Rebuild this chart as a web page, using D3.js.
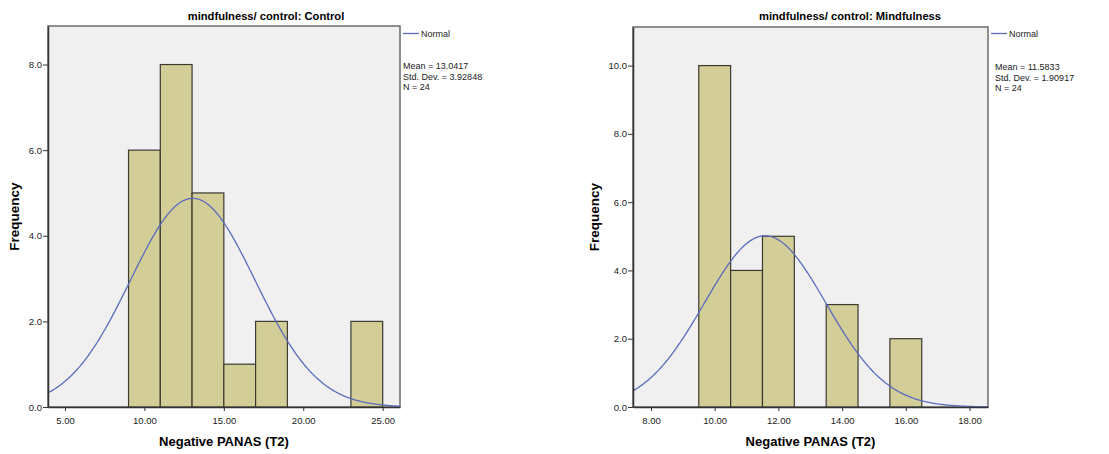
<!DOCTYPE html>
<html>
<head>
<meta charset="utf-8">
<script src="https://cdn.jsdelivr.net/npm/d3@7"></script>
<style>
  body { margin: 0; background: #fff; }
  svg text { font-family: "Liberation Sans", Arial, sans-serif; }
</style>
</head>
<body>
<svg width="1109" height="454"></svg>
<script>
// control group: bins of width 2
var controlBins = [9, 11, 13, 15, 17, 23];
var controlCounts = [6, 8, 5, 1, 2, 2];
var controlTicks = [5, 10, 15, 20, 25];
var controlStats = [13.0417, 3.92848, 24];

// mindfulness group: bins of width 1
var mindBins = [9.5, 10.5, 11.5, 13.5, 15.5];
var mindCounts = [10, 4, 5, 3, 2];
var mindTicks = [8, 10, 12, 14, 16, 18];
var mindStats = [11.5833, 1.90917, 24];

var yTicksControl = [0, 2, 4, 6, 8];
var yTicksMind = [0, 2, 4, 6, 8, 10];

var svg = d3.select("svg");

function drawHist(opt) {
  var g = svg.append("g");
  var x = d3.scaleLinear().domain(opt.xDomain).range([opt.left, opt.right]);
  var y = d3.scaleLinear().domain([0, opt.yMax]).range([opt.bottom, opt.top]);

  // plot background
  g.append("rect")
    .attr("x", opt.left).attr("y", opt.top)
    .attr("width", opt.right - opt.left).attr("height", opt.bottom - opt.top)
    .attr("fill", "#f0f0f0")
    .attr("stroke", "#6b6b6b").attr("stroke-width", 1.5);

  // bars
  g.selectAll("rect.bar")
    .data(opt.bins)
    .enter().append("rect")
    .attr("class", "bar")
    .attr("x", function (d) { return x(d); })
    .attr("width", function (d) { return x(d + opt.width) - x(d); })
    .attr("y", function (d, i) { return y(opt.counts[i]); })
    .attr("height", function (d, i) { return y(0) - y(opt.counts[i]); })
    .attr("fill", "#d3ce97")
    .attr("stroke", "#3a3a32").attr("stroke-width", 1.2);

  // normal curve from the reported mean / sd
  var mean = opt.stats[0], sd = opt.stats[1], n = opt.stats[2];
  var pts = d3.range(opt.xDomain[0], opt.xDomain[1] + 0.001, (opt.xDomain[1] - opt.xDomain[0]) / 300);
  var line = d3.line()
    .x(function (d) { return x(d); })
    .y(function (d) {
      var z = (d - mean) / sd;
      return y(n * opt.width * Math.exp(-0.5 * z * z) / (sd * Math.sqrt(2 * Math.PI)));
    });
  g.append("path")
    .attr("d", line(pts))
    .attr("fill", "none")
    .attr("stroke", "#5a6cbc").attr("stroke-width", 1.3);

  // axes
  var xAxis = g.append("g")
    .attr("transform", "translate(0," + opt.bottom + ")")
    .call(d3.axisBottom(x).tickValues(opt.xTicks).tickFormat(d3.format(".2f")).tickSize(4).tickSizeOuter(0));
  var yAxis = g.append("g")
    .attr("transform", "translate(" + opt.left + ",0)")
    .call(d3.axisLeft(y).tickValues(opt.yTicks).tickFormat(d3.format(".1f")).tickSize(5).tickSizeOuter(0));
  [xAxis, yAxis].forEach(function (a) {
    a.select(".domain").attr("stroke", "#333").attr("stroke-width", 1.5);
    a.selectAll(".tick line").attr("stroke", "#333");
    a.selectAll(".tick text").attr("fill", "#222").style("font-size", "9.5px")
      .style("font-family", "'Liberation Sans', Arial, sans-serif");
  });
  xAxis.selectAll(".tick text").attr("dy", "1.1em");
  yAxis.selectAll(".tick text").attr("x", -6);

  // titles
  g.append("text")
    .attr("x", opt.titleX).attr("y", 20)
    .attr("text-anchor", "middle")
    .style("font-size", "11.2px").style("font-weight", "bold")
    .text(opt.title);
  g.append("text")
    .attr("x", (opt.left + opt.right) / 2).attr("y", 446)
    .attr("text-anchor", "middle")
    .style("font-size", "13px").style("font-weight", "bold")
    .text("Negative PANAS (T2)");
  g.append("text")
    .attr("transform", "translate(" + opt.yLabelX + "," + ((opt.top + opt.bottom) / 2) + ") rotate(-90)")
    .attr("text-anchor", "middle")
    .style("font-size", "13.5px").style("font-weight", "bold")
    .text("Frequency");

  // legend
  var lx = opt.right + 3;
  g.append("line")
    .attr("x1", lx).attr("x2", lx + 16).attr("y1", 33.5).attr("y2", 33.5)
    .attr("stroke", "#5a6cbc").attr("stroke-width", 1.3);
  g.append("text")
    .attr("x", lx + 18).attr("y", 37)
    .style("font-size", "9px").attr("fill", "#222")
    .text("Normal");
  var lines = ["Mean = " + mean, "Std. Dev. = " + sd, "N = " + n];
  g.selectAll("text.stat")
    .data(lines)
    .enter().append("text")
    .attr("class", "stat")
    .attr("x", lx + opt.statPad)
    .attr("y", function (d, i) { return opt.statY + i * 10.5; })
    .style("font-size", "9px").attr("fill", "#222")
    .text(function (d) { return d; });
}

drawHist({
  left: 48, right: 400, top: 26, bottom: 407,
  xDomain: [3.93, 26.09], yMax: 8.9,
  bins: controlBins, counts: controlCounts, width: 2,
  xTicks: controlTicks, yTicks: yTicksControl, stats: controlStats,
  title: "mindfulness/ control: Control", titleX: 266,
  yLabelX: 19, statPad: 0, statY: 69
});

drawHist({
  left: 633, right: 988, top: 27, bottom: 407,
  xDomain: [7.435, 18.58], yMax: 11.13,
  bins: mindBins, counts: mindCounts, width: 1,
  xTicks: mindTicks, yTicks: yTicksMind, stats: mindStats,
  title: "mindfulness/ control: Mindfulness", titleX: 850,
  yLabelX: 599, statPad: 4, statY: 70
});
</script>
</body>
</html>
